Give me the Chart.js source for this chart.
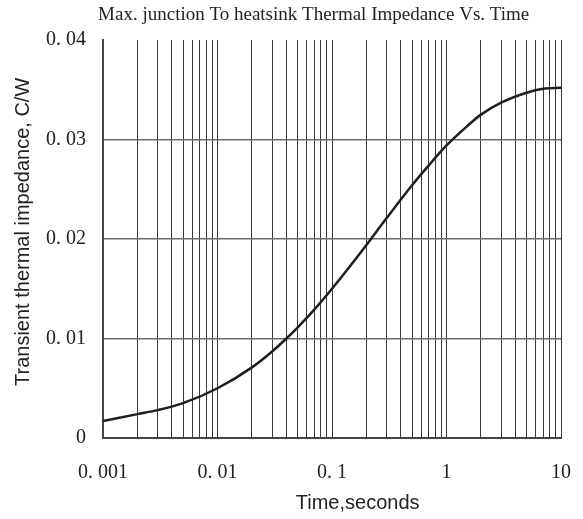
<!DOCTYPE html>
<html>
<head>
<meta charset="utf-8">
<script src="https://cdn.jsdelivr.net/npm/chart.js@4/dist/chart.umd.min.js"></script>
<style>
  html, body { margin: 0; padding: 0; background: #fff; }
  #wrap { width: 583px; height: 519px; }
</style>
</head>
<body>
<div id="wrap"><canvas id="c" width="583" height="519"></canvas></div>
<script>
// ---- data ----
const chartTitle = "Max. junction To heatsink Thermal Impedance Vs. Time";
const xAxisTitle = "Time,seconds";
const yAxisTitle = "Transient thermal impedance, C/W";

const times = [0.001, 0.002, 0.003, 0.005, 0.01, 0.02, 0.03, 0.04, 0.05, 0.07, 0.1,
               0.2, 0.3, 0.5, 0.7, 1, 1.5, 2, 3, 5, 7, 10];
const impedance = [0.0017, 0.0024, 0.0028, 0.0035, 0.0050, 0.0071, 0.0087, 0.0100, 0.0111, 0.0129, 0.0150,
                   0.0194, 0.0221, 0.0254, 0.0274, 0.0294, 0.0313, 0.0325, 0.0337, 0.0347, 0.0351, 0.0352];

const xDecades = [0.001, 0.01, 0.1, 1, 10];
const xTickLabels = ["0. 001", "0. 01", "0. 1", "1", "10"];
const xMinorMultipliers = [1, 2, 3, 4, 5, 6, 7, 8, 9];
const yTickValues = [0, 0.01, 0.02, 0.03, 0.04];
const yTickLabels = ["0", "0. 01", "0. 02", "0. 03", "0. 04"];

// build grid tick values (1..9 per decade, up to 10)
const xGridValues = [];
xDecades.forEach(d => {
  if (d === xDecades[xDecades.length - 1]) { xGridValues.push(d); return; }
  xMinorMultipliers.forEach(m => xGridValues.push(+(d * m).toPrecision(6)));
});

function decadeLabel(v) {
  for (let i = 0; i < xDecades.length; i++) {
    if (Math.abs(Math.log10(v) - Math.log10(xDecades[i])) < 1e-6) return xTickLabels[i];
  }
  return '';
}
function yLabel(v) {
  for (let i = 0; i < yTickValues.length; i++) {
    if (Math.abs(v - yTickValues[i]) < 1e-9) return yTickLabels[i];
  }
  return '';
}

const textPlugin = {
  id: 'texts',
  afterDraw(chart) {
    const ctx = chart.ctx;
    const area = chart.chartArea;
    ctx.save();
    ctx.fillStyle = '#222';
    ctx.textAlign = 'center';
    ctx.textBaseline = 'middle';
    ctx.font = '19px "Liberation Serif"';
    ctx.fillText(chartTitle, area.left + (area.right - area.left) * 0.46, 15);
    ctx.font = '20px "Liberation Sans"';
    ctx.fillText(xAxisTitle, area.left + (area.right - area.left) * 0.556, 503);
    ctx.translate(23, area.top + (area.bottom - area.top) * 0.482);
    ctx.rotate(-Math.PI / 2);
    ctx.fillText(yAxisTitle, 0, 0);
    ctx.restore();
  }
};

new Chart(document.getElementById('c'), {
  type: 'line',
  data: {
    datasets: [{
      data: times.map((t, i) => ({ x: t, y: impedance[i] })),
      borderColor: '#1e1e1e',
      borderWidth: 2.5,
      pointRadius: 0,
      fill: false,
      cubicInterpolationMode: 'monotone'
    }]
  },
  options: {
    responsive: false,
    animation: false,
    layout: { padding: { left: 0, top: 40, right: 22, bottom: 0 } },
    plugins: {
      legend: { display: false },
      title: { display: false },
      tooltip: { enabled: false }
    },
    scales: {
      x: {
        type: 'logarithmic',
        min: 0.001,
        max: 10,
        afterBuildTicks(scale) {
          scale.ticks = xGridValues.map(v => ({ value: v }));
        },
        afterFit(scale) {
          scale.height = 81;
          scale.paddingLeft = 0;
          scale.paddingRight = 0;
        },
        ticks: {
          autoSkip: false,
          maxRotation: 0,
          padding: 23,
          color: '#222',
          font: { family: 'Liberation Serif', size: 20 },
          callback: (v) => decadeLabel(v)
        },
        grid: {
          color: '#3a3a3a',
          lineWidth: 1,
          drawTicks: false
        },
        border: { display: true, color: '#444', width: 2 }
      },
      y: {
        type: 'linear',
        min: 0,
        max: 0.04,
        afterBuildTicks(scale) {
          scale.ticks = yTickValues.map(v => ({ value: v }));
        },
        afterFit(scale) {
          scale.width = 103;
          scale.paddingTop = 0;
          scale.paddingBottom = 0;
        },
        ticks: {
          padding: 17,
          color: '#222',
          font: { family: 'Liberation Serif', size: 20 },
          callback: (v) => yLabel(v)
        },
        grid: {
          color: (c) => (c.tick && c.tick.value >= 0.04 - 1e-9) ? 'rgba(0,0,0,0)' : '#6a6a6a',
          lineWidth: 1.5,
          drawTicks: false
        },
        border: { display: true, color: '#444', width: 2 }
      }
    }
  },
  plugins: [textPlugin]
});
</script>
</body>
</html>
